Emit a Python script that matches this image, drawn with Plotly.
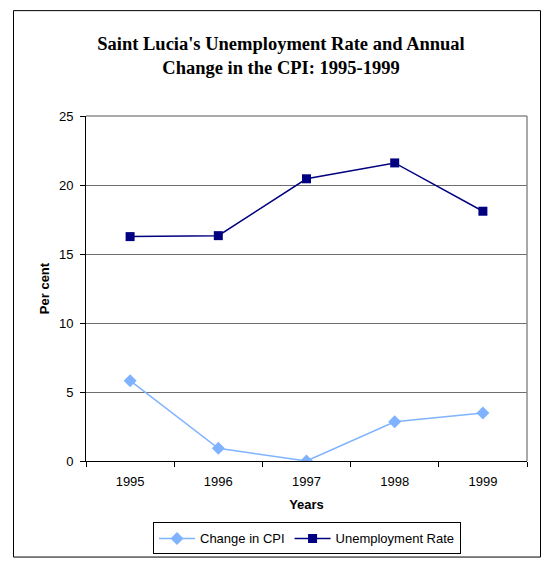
import plotly.graph_objects as go

years = ["1995", "1996", "1997", "1998", "1999"]
cpi_change = [5.82, 0.92, 0.0, 2.84, 3.48]
unemployment = [16.26, 16.33, 20.45, 21.6, 18.1]

W, H = 553, 567
L, R, T, B = 86, 527, 116, 468

def px(x):
    return (x - L) / (R - L)

def py(y):
    return (B - y) / (B - T)

fig = go.Figure()
fig.add_trace(go.Scatter(
    x=years, y=cpi_change, name="Change in CPI", mode="lines+markers",
    line=dict(color="#80B3FF", width=1.5),
    marker=dict(symbol="diamond", size=10, color="#80B3FF"),
))
fig.add_trace(go.Scatter(
    x=years, y=unemployment, name="Unemployment Rate", mode="lines+markers",
    line=dict(color="#000080", width=1.5),
    marker=dict(symbol="square", size=9, color="#000080"),
))

fig.update_layout(
    width=W, height=H,
    margin=dict(l=L, r=W - R, t=T, b=H - B, pad=0),
    paper_bgcolor="white", plot_bgcolor="white",
    font=dict(family="Arial, Liberation Sans, sans-serif", size=13, color="black"),
    title=dict(
        text="<b>Saint Lucia's Unemployment Rate and Annual<br>Change in the CPI: 1995-1999</b>",
        x=px(281), xref="paper", xanchor="center",
        y=1 - 50 / H, yref="container", yanchor="middle",
        font=dict(family="Liberation Serif, Times New Roman, serif", size=18.5, color="black"),
    ),
    xaxis=dict(
        type="category", range=[-0.5, 4.5], tickson="boundaries",
        ticks="outside", ticklen=5, tickcolor="black",
        showline=True, linecolor="black", linewidth=1, mirror=False,
        showgrid=False, zeroline=False,
        tickfont=dict(size=13), ticklabelstandoff=8,
        title=dict(text="<b>Years</b>", font=dict(size=13), standoff=12),
    ),
    yaxis=dict(
        range=[0, 25], dtick=5, ticks="outside", ticklen=5, tickcolor="black",
        showline=True, linecolor="black", linewidth=1,
        showgrid=True, gridcolor="#6E6E6E", gridwidth=1.2, zeroline=False,
        tickfont=dict(size=13), ticklabelstandoff=4,
        title=dict(text="<b>Per cent</b>", font=dict(size=13), standoff=6),
    ),
    legend=dict(
        orientation="h", x=px(307), xanchor="center", y=py(547), yanchor="middle",
        bordercolor="black", borderwidth=1, bgcolor="white",
        font=dict(size=13), itemwidth=36, tracegroupgap=0,
    ),
    showlegend=True,
    shapes=[
        dict(type="line", xref="paper", yref="paper", x0=1, x1=1, y0=0, y1=1,
             line=dict(color="#8C8C8C", width=1.5)),
        dict(type="line", xref="paper", yref="paper", x0=0, x1=1, y0=1, y1=1,
             line=dict(color="#8C8C8C", width=1.5)),
        dict(type="rect", xref="paper", yref="paper",
             x0=px(13.5), x1=px(540.5), y0=py(566), y1=py(8.5),
             line=dict(color="black", width=1), layer="below"),
    ],
)

fig.write_html(
    "out.html",
    config={"displayModeBar": False},
    post_script="document.body.style.margin='0';document.body.style.overflow='hidden';",
)
